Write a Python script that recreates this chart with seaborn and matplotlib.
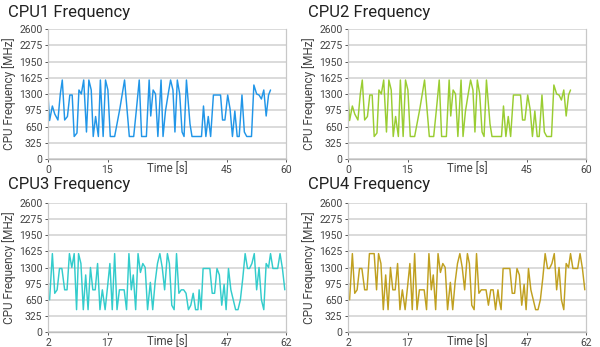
import matplotlib
matplotlib.use("Agg")
import matplotlib.pyplot as plt
import seaborn as sns
import pandas as pd

# ---------------- data ----------------
t1 = [0.0, 0.4, 1.1, 1.7, 2.5, 3.1, 3.6, 4.2, 4.9, 5.5, 6.1, 6.6, 7.3, 7.8, 8.4, 9.0, 9.7, 10.3,
      10.9, 11.4, 12.0, 12.7, 13.2, 13.9, 14.5, 15.1, 15.7, 16.8, 18.1, 19.3, 20.5, 21.6, 22.3,
      23.0, 23.6, 24.8, 25.5, 25.9, 26.5, 27.1, 27.7, 28.5, 29.0, 29.6, 30.3, 30.9, 31.5, 32.0,
      32.6, 33.2, 33.8, 34.3, 34.9, 35.8, 36.3, 38.7, 39.2, 39.8, 40.4, 41.0, 41.7, 43.5, 44.0,
      44.6, 45.3, 45.9, 46.5, 47.1, 47.7, 48.2, 48.9, 49.5, 50.1, 51.3, 51.9, 52.6, 53.2, 53.8,
      54.4, 55.0, 55.6, 56.1]
f1 = [1280, 770, 1060, 900, 780, 1300, 1580, 780, 850, 1280, 1280, 450, 520, 1380, 1300, 1580,
      540, 1580, 1380, 450, 850, 450, 1580, 450, 1580, 1380, 450, 450, 1000, 1580, 450, 450, 1000,
      1580, 450, 450, 1580, 860, 1380, 1300, 450, 1580, 450, 950, 1300, 1580, 1380, 540, 1580,
      1300, 540, 450, 1580, 700, 450, 450, 1060, 450, 850, 450, 1280, 1280, 780, 780, 1280, 1000,
      450, 960, 450, 450, 1280, 540, 450, 450, 1480, 1300, 1280, 1200, 1380, 860, 1280, 1380]

t2 = list(t1)
f2 = [1280, 770, 1060, 900, 780, 1300, 1580, 780, 850, 1280, 1280, 450, 520, 1380, 1300, 1580,
      540, 1580, 1380, 450, 850, 450, 1580, 450, 1580, 1380, 450, 450, 1000, 1580, 450, 450, 1000,
      1580, 450, 450, 1580, 860, 1380, 1300, 450, 1580, 450, 950, 1300, 1580, 1380, 540, 1580,
      1300, 540, 450, 1580, 700, 450, 450, 1060, 450, 850, 450, 1280, 1280, 780, 780, 1280, 1000,
      450, 960, 450, 450, 1280, 540, 450, 450, 1480, 1300, 1280, 1180, 1380, 860, 1280, 1380]

t3 = [2.0, 2.4, 3.1, 3.7, 4.3, 4.9, 5.5, 6.2, 6.8, 7.4, 8.0, 8.6, 9.2, 9.7, 10.3, 10.9, 11.5,
      12.1, 12.7, 13.3, 13.9, 14.5, 15.1, 15.7, 16.4, 17.0, 17.6, 18.2, 18.8, 19.4, 20.0, 20.6,
      21.2, 21.8, 22.4, 23.0, 23.5, 24.1, 24.7, 25.3, 25.9, 26.5, 27.1, 27.8, 28.4, 29.0, 29.6,
      30.2, 30.8, 31.4, 32.1, 32.6, 33.2, 33.8, 34.4, 35.0, 35.6, 36.2, 36.8, 37.4, 38.0, 38.6,
      39.2, 39.8, 40.1, 40.6, 41.1, 42.8, 43.4, 44.0, 44.6, 45.2, 45.8, 46.4, 46.9, 47.5, 48.1,
      48.7, 49.3, 49.9, 50.5, 51.1, 51.7, 52.3, 52.8, 53.4, 54.0, 54.6, 55.2, 55.8, 56.4, 57.0,
      57.6, 58.1, 58.7, 59.3, 59.9, 60.5, 61.1, 61.7]
f3 = [700, 650, 1580, 780, 850, 1280, 1280, 850, 850, 1580, 1300, 1580, 450, 1580, 1380, 450,
      1150, 450, 1300, 850, 850, 1380, 450, 850, 450, 900, 1380, 450, 1580, 450, 850, 850, 850,
      450, 1580, 850, 1150, 450, 1580, 1200, 1380, 1300, 450, 1000, 450, 1000, 1380, 1580, 1300,
      850, 1580, 1380, 540, 450, 1580, 780, 850, 850, 780, 450, 540, 780, 450, 450, 850, 450,
      1280, 1280, 780, 780, 1280, 1150, 540, 960, 450, 1280, 850, 650, 450, 450, 650, 1080, 1580,
      1280, 1280, 1380, 1580, 850, 1300, 650, 450, 1380, 1300, 1580, 1280, 1280, 1280, 1580,
      1280, 850]

t4 = list(t3)
f4 = [700, 650, 1580, 780, 850, 1280, 1280, 850, 850, 1580, 1580, 1580, 850, 1580, 1380, 450,
      1150, 450, 1300, 850, 850, 1380, 450, 850, 450, 900, 1380, 450, 1580, 450, 850, 850, 850,
      450, 1580, 850, 1150, 450, 1580, 1200, 1380, 1300, 450, 1000, 450, 1000, 1380, 1580, 1300,
      850, 1580, 1380, 540, 450, 1580, 780, 850, 850, 850, 540, 850, 850, 450, 850, 650, 450,
      1280, 1280, 780, 780, 1280, 1150, 540, 960, 450, 1280, 850, 650, 450, 450, 650, 1080, 1580,
      1280, 1280, 1380, 1580, 850, 1300, 650, 450, 1380, 1300, 1580, 1280, 1280, 1280, 1580,
      1280, 850]

titles = ["CPU1 Frequency", "CPU2 Frequency", "CPU3 Frequency", "CPU4 Frequency"]
y_ticks = [0, 325, 650, 975, 1300, 1625, 1950, 2275, 2600]
x_ranges = [(0, 60), (0, 60), (2, 62), (2, 62)]
x_ticks = [[0, 15, 45, 60], [0, 15, 45, 60], [2, 17, 47, 62], [2, 17, 47, 62]]
colors = ["#2196e8", "#9acd32", "#33cccc", "#c0a020"]

# ---------------- plotting ----------------
sns.set_theme(style="white")
plt.rcParams["font.family"] = ["Roboto", "DejaVu Sans"]

fig = plt.figure(figsize=(6.0, 3.47), dpi=100)

W, H = 600.0, 347.0
panels = [
    (48, 29, 238, 130),
    (348, 29, 238, 130),
    (48, 203, 238, 129),
    (348, 203, 238, 129),
]
title_pos = [(8, 12), (308, 12), (8, 184), (308, 184)]
series = [(t1, f1), (t2, f2), (t3, f3), (t4, f4)]

for i, (x0, y0, w, h) in enumerate(panels):
    ax = fig.add_axes([x0 / W, 1 - (y0 + h) / H, w / W, h / H])
    t, f = series[i]
    df = pd.DataFrame({"Time [s]": t, "Freq": f})
    sns.lineplot(data=df, x="Time [s]", y="Freq", ax=ax, color=colors[i],
                 linewidth=1.05, estimator=None, sort=False)
    ax.set_xlim(*x_ranges[i])
    ax.set_ylim(0, 2600)
    ax.set_yticks(y_ticks)
    ax.set_xticks(x_ticks[i])
    ax.yaxis.grid(True, color="#d4d4d4", linewidth=1.2)
    ax.set_axisbelow(True)
    for s in ["left", "right"]:
        ax.spines[s].set_visible(True)
        ax.spines[s].set_color("#c8c8c8")
        ax.spines[s].set_linewidth(0.9)
    ax.spines["top"].set_visible(False)
    ax.spines["bottom"].set_color("#bdbdbd")
    ax.spines["bottom"].set_linewidth(1.0)
    ax.tick_params(axis="both", labelsize=7.5, colors="#555555", labelcolor="#444444",
                   length=2.5, width=0.7, pad=1.5, left=True, bottom=True)
    ax.set_xlabel("")
    ax.set_ylabel("CPU Frequency [MHz]", fontsize=8.5, color="#444444", labelpad=2)
    ax.text(0.5, -0.025, "Time [s]", transform=ax.transAxes, ha="center", va="top",
            fontsize=8.3, color="#444444")
    tx, ty = title_pos[i]
    fig.text(tx / W, 1 - ty / H, titles[i], fontsize=12, color="#222222",
             ha="left", va="center")

fig.savefig("out.png", dpi=100)
